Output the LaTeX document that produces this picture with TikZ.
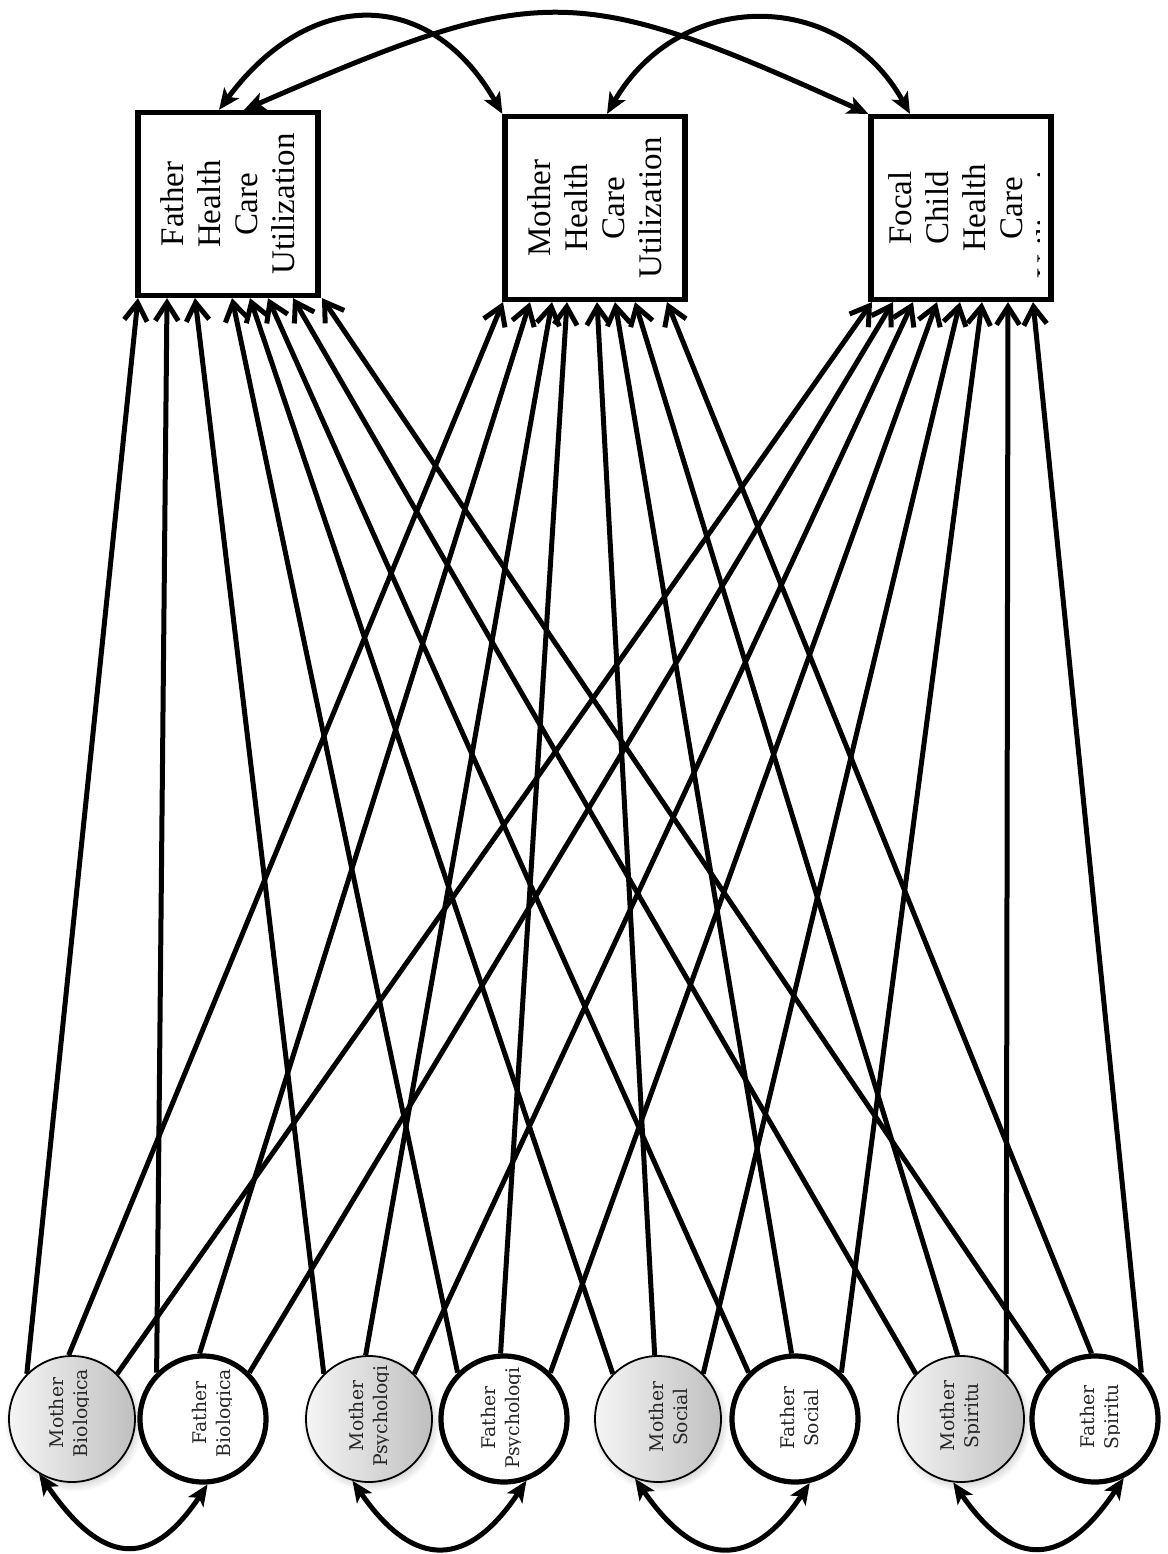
\documentclass[tikz,border=0pt]{standalone}
\usepackage{fontspec}
\setmainfont{Liberation Serif}
\newfontfamily\circfont{DejaVu Serif}
\usetikzlibrary{arrows.meta,shadows}
\begin{document}
\begin{tikzpicture}[x=0.5pt,y=-0.5pt,
  hcbox/.style={draw, line width=2.6pt, minimum width=90pt, minimum height=91.5pt, inner sep=0pt, fill=white},
  boxtext/.style={rotate=90, align=center, font=\fontsize{16.5}{18.5}\selectfont, inner sep=0pt},
  mcirc/.style={circle, draw, line width=0.9pt, minimum size=63pt, inner sep=0pt, left color=gray!8, right color=gray!50,
    circular drop shadow={shadow xshift=0.8pt, shadow yshift=-1.5pt, opacity=0.3}},
  fcirc/.style={circle, draw, line width=2.6pt, minimum size=63pt, inner sep=0pt, fill=white},
  ctext/.style={rotate=90, anchor=base, inner sep=0pt, font=\circfont\fontsize{9.4}{11}\selectfont, text=black!85},
  conn/.style={line width=2.5pt, -{Straight Barb[length=9pt,width=11.5pt]}},
  arctwo/.style={line width=2.5pt, {Stealth[length=10.5pt,width=9pt,inset=2.5pt]}-{Stealth[length=10.5pt,width=9pt,inset=2.5pt]}}
]
\useasboundingbox (0,0) rectangle (1168,1554);

% outcome boxes
\node[hcbox] (fhc) at (228,204) {};
\node[hcbox] (mhc) at (595,208) {};
\node[hcbox] (chc) at (961,208) {};
\node[boxtext] (fhct) at (fhc) {Father\\Health\\Care\\Utilization};
\node[boxtext] (mhct) at (mhc) {Mother\\Health\\Care\\Utilization};
\begin{scope}
  \clip (870,116) rectangle (1039,300);
  \node[boxtext] (chct) at (974,208) {Focal\\Child\\Health\\Care\\Utilization};
\end{scope}

% predictor circles
\node[mcirc] (mbio) at (72,1419) {};
\node[fcirc] (fbio) at (203,1419) {};
\node[mcirc] (mpsy) at (369,1419) {};
\node[fcirc] (fpsy) at (504,1419) {};
\node[mcirc] (msoc) at (658,1419) {};
\node[fcirc] (fsoc) at (795,1419) {};
\node[mcirc] (mspi) at (961,1419) {};
\node[fcirc] (fspi) at (1095,1419) {};

% circle texts
\foreach \n/\la/\lb/\xb/\ty in {mbio/Mother/Biologica/87/1413, fbio/Father/Biologica/230/1413,
  mpsy/Mother/Psychologi/387/1416, fpsy/Father/Psychologi/519/1418,
  msoc/Mother/Social/687/1417, fsoc/Father/Social/818/1418,
  mspi/Mother/Spiritu/978/1416, fspi/Father/Spiritu/1118/1417}{
  \node[ctext] (\n a) at (\xb-24,\ty) {\la};
  \begin{scope}
    \clip (\xb-45,1340) rectangle (\xb+1,1495);
    \node[ctext] (\n b) at (\xb,\ty) {\lb};
  \end{scope}
}

% paths to the outcome boxes
\foreach \c/\a/\b/\d in {mbio/-45/-46/-44.5, fbio/-30.5/-32.5/-34, mpsy/-16.5/-21.5/-24, fpsy/2/-14/-12,
  msoc/11/1/-0.5, fsoc/20/10/10.5, mspi/32.5/20/23.5, fspi/47/36/36}{
  \draw[conn] (\c.135) -- ([xshift=\a pt]fhc.south);
  \draw[conn] (\c.93) -- ([xshift=\b pt]mhc.south);
  \draw[conn] (\c.45) -- ([xshift=\d pt]chc.south);
}

% correlations among outcomes
\draw[arctwo] ([xshift=-4.5pt]fhc.north) .. controls (310,-13) and (430,-13) .. (mhc.north west);
\draw[arctwo] ([xshift=8pt]fhc.north) .. controls (540,-19) and (575,-19) .. (chc.north west);
\draw[arctwo] ([xshift=6pt]mhc.north) .. controls (680,-12) and (840,-12) .. ([xshift=-25.5pt]chc.north);

% correlations among predictors
\draw[arctwo] (mbio.-121) .. controls +(62,90) and +(-58,87) .. (fbio.-86);
\draw[arctwo] (mpsy.-105) .. controls +(62,90) and +(-58,87) .. (fpsy.-70);
\draw[arctwo] (msoc.-111) .. controls +(62,90) and +(-58,87) .. (fsoc.-77);
\draw[arctwo] (mspi.-97) .. controls +(62,90) and +(-58,87) .. (fspi.-64);
\end{tikzpicture}
\end{document}
